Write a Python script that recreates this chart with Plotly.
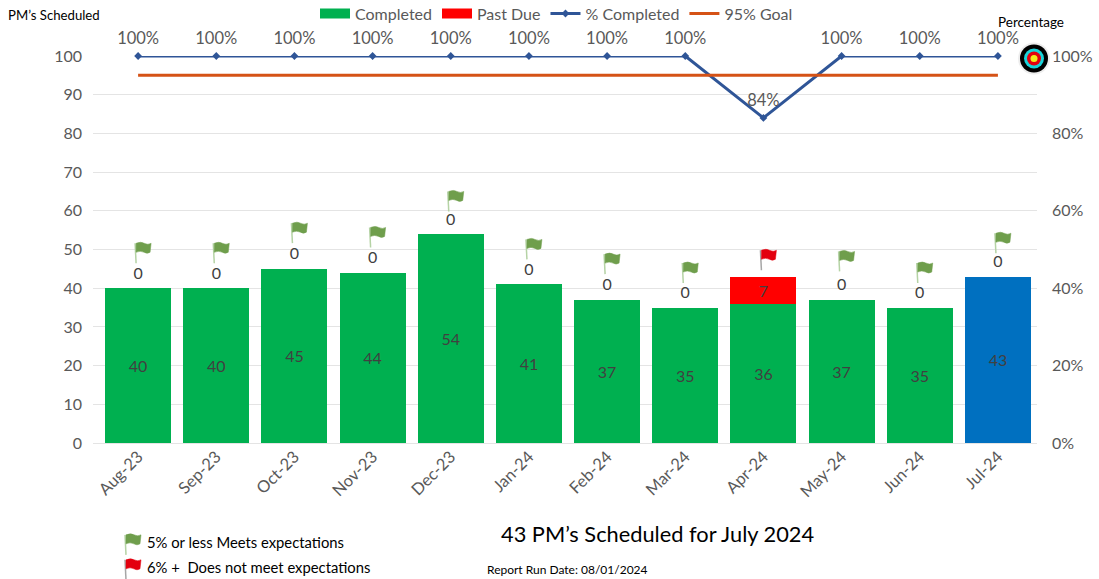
import plotly.graph_objects as go

months = ["Aug-23","Sep-23","Oct-23","Nov-23","Dec-23","Jan-24","Feb-24","Mar-24","Apr-24","May-24","Jun-24","Jul-24"]
completed = [40,40,45,44,54,41,37,35,36,37,35,43]
past_due = [0,0,0,0,0,0,0,0,7,0,0,0]
pct_completed = [1,1,1,1,1,1,1,1,0.84,1,1,1]
goal = [0.95]*12
flag_level = [51.6,51.6,56.8,55.7,65.0,52.6,48.8,46.5,49.8,49.5,46.5,54.2]
flag_status = ["g","g","g","g","g","g","g","g","r","g","g","g"]
bar_colors = ["#00B050"]*11 + ["#0070C0"]

W, H = 1099, 579
L, R, T, B = 93, 62, 55.5, 136
GREY = "#595959"
FONT = "Lato, Carlito, Calibri, sans-serif"

def fx(p): return (p - L) / (W - L - R)
def fy(p): return (H - B - p) / (H - T - B)

fig = go.Figure()
fig.add_bar(x=months, y=completed, name="Completed", showlegend=False,
            marker=dict(color=bar_colors, line_width=0),
            text=[str(v) for v in completed], textposition="inside", insidetextanchor="middle",
            textangle=0, textfont=dict(size=16, color="#404040"), constraintext="none")
fig.add_bar(x=months, y=past_due, name="Past Due", showlegend=False,
            marker=dict(color="#FF0000", line_width=0),
            text=[str(v) if v else "" for v in past_due], textposition="inside", insidetextanchor="middle",
            textangle=0, textfont=dict(size=16, color="#404040"), constraintext="none")
# legend swatches for the bars
fig.add_scatter(x=[None], y=[None], mode="lines", name="Completed", line=dict(color="#00B050", width=11))
fig.add_scatter(x=[None], y=[None], mode="lines", name="Past Due", line=dict(color="#FF0000", width=11))
# past-due zero labels above the stacks (transparent markers lift the text)
fig.add_scatter(x=months, y=[c + p for c, p in zip(completed, past_due)], mode="markers+text", showlegend=False,
                marker=dict(size=7, opacity=0),
                text=[str(p) if p == 0 else "" for p in past_due], textposition="top center",
                textfont=dict(size=16, color="#404040"), cliponaxis=False, hoverinfo="skip")
fig.add_scatter(x=months, y=pct_completed, yaxis="y2", mode="lines+markers", name="% Completed",
                line=dict(color="#2F5597", width=3), marker=dict(symbol="diamond", size=6, color="#2F5597"),
                cliponaxis=False)
fig.add_scatter(x=months, y=pct_completed, yaxis="y2", mode="markers+text", showlegend=False,
                marker=dict(size=11, opacity=0),
                text=[f"{round(v*100)}%" for v in pct_completed], textposition="top center",
                textfont=dict(size=16.5, color="#595959"), cliponaxis=False, hoverinfo="skip")
fig.add_scatter(x=months, y=goal, yaxis="y2", mode="lines", name="95% Goal",
                line=dict(color="#D55216", width=3), cliponaxis=False)

# flag glyphs, anchored on the chart's scales
CLOTH = "M -2 20 Q 3 22 6 20 Q 10 18 13 20 L 12 11 Q 9 9 6 11 Q 2 13 -2 11 Z"
shapes = []
def flag(xanchor, yanchor, kind, xref="x", yref="y"):
    pole = "#B5D3A5" if kind == "g" else "#A6A6A6"
    cloth = "#6F9E4C" if kind == "g" else "#E3000F"
    base = dict(xref=xref, yref=yref, xsizemode="pixel", ysizemode="pixel",
                xanchor=xanchor, yanchor=yanchor, layer="above")
    shapes.append(dict(type="path", path="M -3 20 L -2 0", line=dict(color=pole, width=1.5), **base))
    shapes.append(dict(type="path", path=CLOTH, fillcolor=cloth, line=dict(color=cloth, width=0.5), **base))

for m, lv, st in zip(months, flag_level, flag_status):
    flag(m, lv - 20 / 3.875, st)

# legend flags
flag(fx(128), fy(555), "g", "paper", "paper")
flag(fx(128), fy(580), "r", "paper", "paper")

# target icon
for r, c in [(16, "#EDEDED"), (14, "#000000"), (10, "#19D3DA"), (7, "#E3000F"), (3.5, "#F2EC1A")]:
    shapes.append(dict(type="circle", xref="paper", yref="paper", xsizemode="pixel", ysizemode="pixel",
                       xanchor=fx(1034), yanchor=fy(58), x0=-r, x1=r, y0=-r, y1=r,
                       fillcolor=c, line_width=0, layer="above"))

def note(text, px, py, size, anchor="left", color="#000000"):
    return dict(text=text, x=fx(px), y=fy(py), xref="paper", yref="paper", xanchor=anchor, yanchor="middle",
                showarrow=False, font=dict(size=size, color=color, family=FONT), borderpad=0, borderwidth=0)

annotations = [
    note("PM’s Scheduled", 8, 14, 13.2),
    note("Percentage", 998, 21, 13.5),
    note("43 PM’s Scheduled for July 2024", 501, 534, 21.8),
    note("Report Run Date: 08/01/2024", 487, 570, 12),
    note("5% or less Meets expectations", 147, 542, 14.8),
    note("6% +  Does not meet expectations", 147, 567, 14.8),
]

fig.update_layout(
    width=W, height=H, autosize=False, barmode="stack", bargap=0.157,
    margin=dict(l=L, r=R, t=T, b=B, pad=0, autoexpand=False),
    paper_bgcolor="white", plot_bgcolor="white",
    font=dict(family=FONT, color=GREY, size=16),
    shapes=shapes, annotations=annotations,
    legend=dict(orientation="h", x=fx(315), y=fy(-4), xanchor="left", yanchor="top",
                font=dict(size=16, color=GREY), bgcolor="rgba(0,0,0,0)", traceorder="normal"),
    xaxis=dict(type="category", categoryorder="array", categoryarray=months, range=[-0.577, 11.5],
               tickangle=-45, tickfont=dict(size=16.5, color=GREY), ticks="", showline=False, showgrid=False),
    yaxis=dict(range=[0, 100], dtick=10, tickfont=dict(size=16, color=GREY), ticks="",
               gridcolor="#E4E4E4", gridwidth=1.3, zeroline=True, zerolinecolor="#E4E4E4", zerolinewidth=1.3,
               ticklabelstandoff=10),
    yaxis2=dict(range=[0, 1], overlaying="y", side="right", dtick=0.2, tickformat=".0%",
                tickfont=dict(size=16, color=GREY), showgrid=False, zeroline=False, ticks="",
                ticklabelstandoff=14),
)
fig.write_html("out.html", post_script="document.body.style.margin='0';", config={"displayModeBar": False})
